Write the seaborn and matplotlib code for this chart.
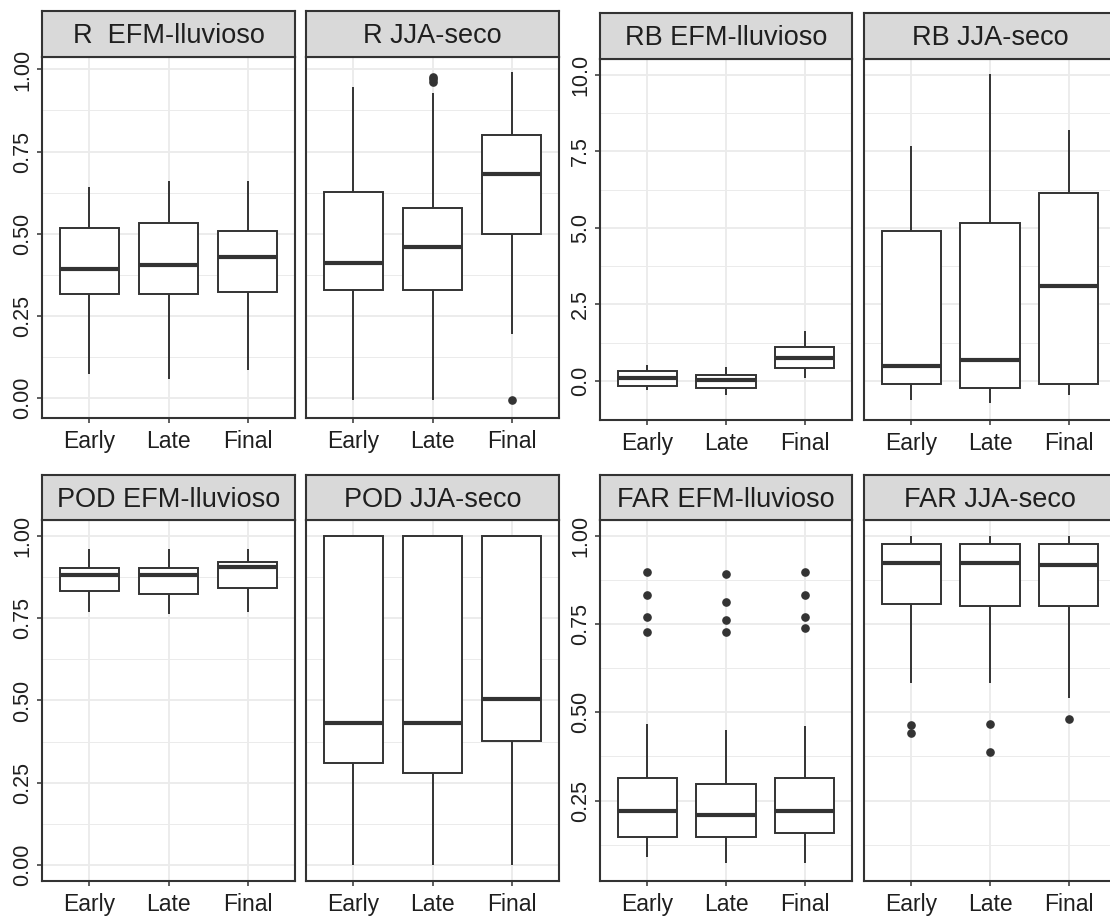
import numpy as np
import pandas as pd
import matplotlib
matplotlib.use("Agg")
import matplotlib.pyplot as plt
import seaborn as sns

# ---------------- data ----------------
periods = ["Early", "Late", "Final"]

# R  EFM-lluvioso
r_efm_lo = [0.071, 0.058, 0.083]
r_efm_q1 = [0.317, 0.317, 0.323]
r_efm_med = [0.393, 0.405, 0.429]
r_efm_q3 = [0.518, 0.531, 0.507]
r_efm_hi = [0.642, 0.660, 0.660]
r_efm_out = [[], [], []]

# R JJA-seco
r_jja_lo = [-0.008, -0.008, 0.193]
r_jja_q1 = [0.329, 0.329, 0.499]
r_jja_med = [0.411, 0.460, 0.680]
r_jja_q3 = [0.627, 0.579, 0.799]
r_jja_hi = [0.948, 0.929, 0.991]
r_jja_out = [[], [0.962, 0.970, 0.978], [-0.008]]

# RB EFM-lluvioso
rb_efm_lo = [-0.29, -0.46, 0.09]
rb_efm_q1 = [-0.16, -0.24, 0.42]
rb_efm_med = [0.09, 0.03, 0.74]
rb_efm_q3 = [0.33, 0.20, 1.10]
rb_efm_hi = [0.52, 0.47, 1.64]
rb_efm_out = [[], [], []]

# RB JJA-seco
rb_jja_lo = [-0.62, -0.71, -0.44]
rb_jja_q1 = [-0.10, -0.22, -0.10]
rb_jja_med = [0.49, 0.68, 3.10]
rb_jja_q3 = [4.90, 5.15, 6.13]
rb_jja_hi = [7.66, 10.03, 8.18]
rb_jja_out = [[], [], []]

# POD EFM-lluvioso
pod_efm_lo = [0.771, 0.765, 0.771]
pod_efm_q1 = [0.835, 0.823, 0.842]
pod_efm_med = [0.883, 0.883, 0.907]
pod_efm_q3 = [0.903, 0.903, 0.921]
pod_efm_hi = [0.961, 0.961, 0.961]
pod_efm_out = [[], [], []]

# POD JJA-seco
pod_jja_lo = [0.0, 0.0, 0.0]
pod_jja_q1 = [0.311, 0.280, 0.377]
pod_jja_med = [0.431, 0.431, 0.505]
pod_jja_q3 = [1.0, 1.0, 1.0]
pod_jja_hi = [1.0, 1.0, 1.0]
pod_jja_out = [[], [], []]

# FAR EFM-lluvioso
far_efm_lo = [0.089, 0.072, 0.072]
far_efm_q1 = [0.147, 0.147, 0.159]
far_efm_med = [0.219, 0.209, 0.219]
far_efm_q3 = [0.313, 0.296, 0.313]
far_efm_hi = [0.466, 0.450, 0.461]
far_efm_out = [[0.899, 0.832, 0.770, 0.729],
               [0.893, 0.814, 0.763, 0.729],
               [0.899, 0.832, 0.770, 0.740]]

# FAR JJA-seco
far_jja_lo = [0.583, 0.583, 0.542]
far_jja_q1 = [0.806, 0.801, 0.801]
far_jja_med = [0.923, 0.923, 0.917]
far_jja_q3 = [0.976, 0.976, 0.976]
far_jja_hi = [1.0, 1.0, 1.0]
far_jja_out = [[0.463, 0.440], [0.468, 0.388], [0.480]]

titles = ["R  EFM-lluvioso", "R JJA-seco", "RB EFM-lluvioso", "RB JJA-seco",
          "POD EFM-lluvioso", "POD JJA-seco", "FAR EFM-lluvioso", "FAR JJA-seco"]

r_ticks = [0.0, 0.25, 0.5, 0.75, 1.0]
r_labels = ["0.00", "0.25", "0.50", "0.75", "1.00"]
rb_ticks = [0.0, 2.5, 5.0, 7.5, 10.0]
rb_labels = ["0.0", "2.5", "5.0", "7.5", "10.0"]
far_ticks = [0.25, 0.5, 0.75, 1.0]
far_labels = ["0.25", "0.50", "0.75", "1.00"]

# ---------------- style ----------------
sns.set_theme(style="white")
plt.rcParams["font.family"] = ["Liberation Sans", "DejaVu Sans"]

DARK = "#333333"
TXT = "#1f1f1f"
W, H = 1110, 917
fig = plt.figure(figsize=(W / 100, H / 100), dpi=100)


def rect_px(x0, x1, y0, y1):
    return [x0 / W, 1 - y1 / H, (x1 - x0) / W, (y1 - y0) / H]


def make_long(lo, q1, med, q3, hi, outs, n=20):
    rows = []
    for i, p in enumerate(periods):
        vals = [lo[i]] + [q1[i]] * n + [med[i]] * n + [q3[i]] * n + [hi[i]] + list(outs[i])
        rows += [(p, v) for v in vals]
    return pd.DataFrame(rows, columns=["period", "value"])


def draw_panel(cols, strip_y, ax_y, title, stats, ylim, majors, labels, show_y):
    x0, x1 = cols
    ax = fig.add_axes(rect_px(x0, x1, ax_y[0], ax_y[1]))
    df = make_long(*stats)
    sns.boxplot(data=df, x="period", y="value", order=periods, ax=ax,
                width=0.75, color="white", saturation=1, linecolor=DARK,
                linewidth=1.4, whis=1.5, fliersize=5.2, showcaps=False,
                medianprops=dict(linewidth=3.0, color=DARK),
                flierprops=dict(marker="o", markerfacecolor=DARK,
                                markeredgecolor=DARK))
    ax.set_xlim(-0.6, 2.6)
    ax.set_ylim(*ylim)
    ax.set_xlabel("")
    ax.set_ylabel("")
    ax.set_yticks(majors)
    minors = [(a + b) / 2 for a, b in zip(majors[:-1], majors[1:])]
    if majors[0] - (majors[1] - majors[0]) / 2 > ylim[0]:
        minors = [majors[0] - (majors[1] - majors[0]) / 2] + minors
    ax.set_yticks(minors, minor=True)
    ax.set_axisbelow(True)
    ax.grid(True, which="major", color="#EBEBEB", linewidth=1.3)
    ax.grid(True, which="minor", axis="y", color="#EBEBEB", linewidth=0.7)
    ax.set_facecolor("white")
    for s in ax.spines.values():
        s.set_color(DARK)
        s.set_linewidth(1.5)
        s.set_visible(True)
    ax.tick_params(axis="x", which="major", length=3.5, width=1.1, color=DARK,
                   labelsize=16.5, labelcolor=TXT, pad=5, bottom=True)
    ax.tick_params(axis="y", which="minor", length=0, left=False)
    if show_y:
        ax.set_yticklabels(labels)
        ax.tick_params(axis="y", which="major", length=3.5, width=1.1, color=DARK,
                       labelsize=15.5, labelcolor=TXT, pad=3, left=True,
                       labelrotation=90)
        for lab in ax.get_yticklabels():
            lab.set_va("center")
    else:
        ax.tick_params(axis="y", which="major", length=0, left=False,
                       labelleft=False)

    sax = fig.add_axes(rect_px(x0, x1, strip_y[0], strip_y[1]))
    sax.set_facecolor("#D9D9D9")
    sax.set_xticks([])
    sax.set_yticks([])
    for s in sax.spines.values():
        s.set_color(DARK)
        s.set_linewidth(1.5)
        s.set_visible(True)
    sax.text(0.5, 0.45, title, ha="center", va="center", fontsize=19.5,
             color=TXT, transform=sax.transAxes)
    return ax


col_px = [(42, 295), (306, 559), (600, 852), (864, 1116)]
top_left = ((11, 57), (57, 418))
top_right = ((13, 59), (59, 420))
bot = ((475, 520), (520, 881))

draw_panel(col_px[0], *top_left, titles[0],
           (r_efm_lo, r_efm_q1, r_efm_med, r_efm_q3, r_efm_hi, r_efm_out),
           (-0.062, 1.038), r_ticks, r_labels, True)
draw_panel(col_px[1], *top_left, titles[1],
           (r_jja_lo, r_jja_q1, r_jja_med, r_jja_q3, r_jja_hi, r_jja_out),
           (-0.062, 1.038), r_ticks, r_labels, False)
draw_panel(col_px[2], *top_right, titles[2],
           (rb_efm_lo, rb_efm_q1, rb_efm_med, rb_efm_q3, rb_efm_hi, rb_efm_out),
           (-1.27, 10.51), rb_ticks, rb_labels, True)
draw_panel(col_px[3], *top_right, titles[3],
           (rb_jja_lo, rb_jja_q1, rb_jja_med, rb_jja_q3, rb_jja_hi, rb_jja_out),
           (-1.27, 10.51), rb_ticks, rb_labels, False)
draw_panel(col_px[0], *bot, titles[4],
           (pod_efm_lo, pod_efm_q1, pod_efm_med, pod_efm_q3, pod_efm_hi, pod_efm_out),
           (-0.05, 1.05), r_ticks, r_labels, True)
draw_panel(col_px[1], *bot, titles[5],
           (pod_jja_lo, pod_jja_q1, pod_jja_med, pod_jja_q3, pod_jja_hi, pod_jja_out),
           (-0.05, 1.05), r_ticks, r_labels, False)
draw_panel(col_px[2], *bot, titles[6],
           (far_efm_lo, far_efm_q1, far_efm_med, far_efm_q3, far_efm_hi, far_efm_out),
           (0.022, 1.045), far_ticks, far_labels, True)
draw_panel(col_px[3], *bot, titles[7],
           (far_jja_lo, far_jja_q1, far_jja_med, far_jja_q3, far_jja_hi, far_jja_out),
           (0.022, 1.045), far_ticks, far_labels, False)

fig.savefig("out.png", dpi=100, facecolor="white")
